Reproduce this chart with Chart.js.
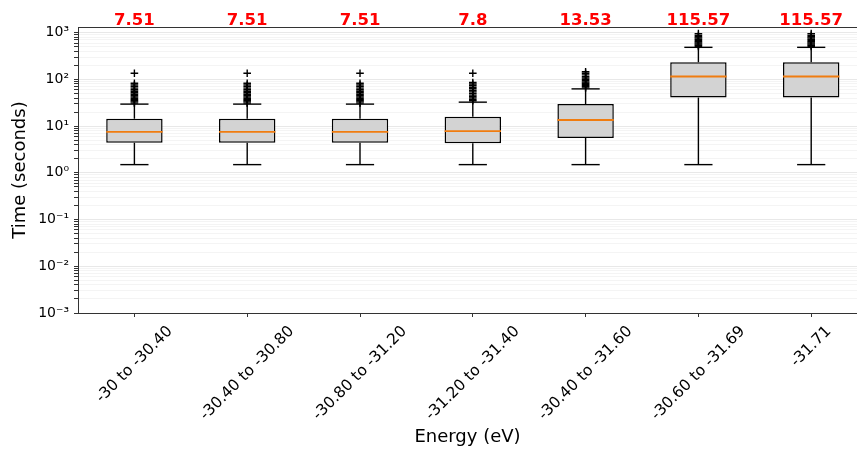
<!DOCTYPE html>
<html>
<head>
<meta charset="utf-8">
<script src="https://cdn.jsdelivr.net/npm/chart.js@4/dist/chart.umd.min.js"></script>
<style>
  html, body { margin: 0; padding: 0; background: #fff; overflow: hidden; }
  #wrap { width: 857px; height: 454px; }
</style>
</head>
<body>
<div id="wrap"><canvas id="c" width="857" height="454"></canvas></div>
<script>
// ---- data ----
const categories = ['-30 to -30.40', '-30.40 to -30.80', '-30.80 to -31.20', '-31.20 to -31.40', '-30.40 to -31.60', '-30.60 to -31.69', '-31.71'];
const medianLabels = ['7.51', '7.51', '7.51', '7.8', '13.53', '115.57', '115.57'];
const whisLow  = [1.5, 1.5, 1.5, 1.5, 1.5, 1.5, 1.5];
const q1       = [4.4, 4.4, 4.4, 4.3, 5.6, 41, 41];
const medians  = [7.51, 7.51, 7.51, 7.8, 13.53, 115.57, 115.57];
const q3       = [14.4, 14.4, 14.4, 15.9, 29.6, 233, 233];
const whisHigh = [29.6, 29.6, 29.6, 32.6, 62.7, 486, 486];
const outliers1 = [31, 33, 35, 37, 39, 42, 45, 48, 52, 56, 60, 65, 70, 76, 83, 135];
const outliers2 = [31, 33, 35, 37, 39, 42, 45, 48, 52, 56, 60, 65, 70, 76, 83, 135];
const outliers3 = [31, 33, 35, 37, 39, 42, 45, 48, 52, 56, 60, 65, 70, 76, 83, 135];
const outliers4 = [35, 37, 40, 43, 46, 50, 54, 58, 63, 68, 74, 80, 86, 135];
const outliers5 = [66, 70, 74, 78, 83, 88, 94, 100, 107, 115, 125, 135, 146];
const outliers6 = [510, 540, 570, 600, 640, 680, 720, 770, 820, 880, 955];
const outliers7 = [510, 540, 570, 600, 640, 680, 720, 770, 820, 880, 955];
const yMajorTicks = [0.001, 0.01, 0.1, 1, 10, 100, 1000];
const yTickLabels = ['10\u207B\u00B3', '10\u207B\u00B2', '10\u207B\u00B9', '10\u2070', '10\u00B9', '10\u00B2', '10\u00B3'];

// ---- derived datasets ----
const allOutliers = [outliers1, outliers2, outliers3, outliers4, outliers5, outliers6, outliers7];
const boxPts = categories.map((c, i) => ({ x: i, y: [q1[i], q3[i]] }));
const whiskerPts = [];
categories.forEach((c, i) => {
  whiskerPts.push({ x: i, y: whisLow[i] }, { x: i, y: q1[i] }, { x: i, y: null },
                  { x: i, y: q3[i] }, { x: i, y: whisHigh[i] }, { x: i, y: null });
});
const capPts = [];
categories.forEach((c, i) => { capPts.push({ x: i, y: whisLow[i] }, { x: i, y: whisHigh[i] }); });
const medianPts = categories.map((c, i) => ({ x: i, y: medians[i] }));
const outlierPts = [];
allOutliers.forEach((arr, i) => arr.forEach(v => outlierPts.push({ x: i, y: v })));

const FONT = '"DejaVu Sans", "Liberation Sans", sans-serif';
Chart.defaults.font.family = FONT;
Chart.defaults.color = '#000';

const halfWidthPx = frac => ctx => {
  const s = ctx.chart.scales.x;
  return Math.abs(s.getPixelForValue(frac) - s.getPixelForValue(0));
};

const xLabelPlugin = {
  id: 'xlabels',
  afterDraw(chart) {
    const { ctx } = chart;
    const x = chart.scales.x;
    const size = 15.5;
    ctx.save();
    ctx.font = size + 'px ' + FONT;
    ctx.fillStyle = '#000';
    ctx.textAlign = 'center';
    ctx.textBaseline = 'middle';
    categories.forEach((lab, i) => {
      const w = ctx.measureText(lab).width;
      const h = size * 1.1;
      const half = Math.SQRT1_2 * (w + h) / 2;
      const cx = x.getPixelForValue(i);
      const cy = x.top + 10 + half;
      ctx.save();
      ctx.translate(cx, cy);
      ctx.rotate(-Math.PI / 4);
      ctx.fillText(lab, 0, 0);
      ctx.restore();
    });
    ctx.restore();
  }
};

const xMin = -0.5, xMax = 6.406;
const spine = '#333';
const noSidePad = s => { s.paddingLeft = 0; s.paddingRight = 0; };

new Chart(document.getElementById('c'), {
  type: 'bar',
  data: {
    datasets: [
      { type: 'line', label: 'whiskers', data: whiskerPts, xAxisID: 'x', yAxisID: 'y',
        borderColor: '#000', borderWidth: 1.4, pointRadius: 0, spanGaps: false, order: 5 },
      { type: 'bar', label: 'box', data: boxPts, xAxisID: 'x', yAxisID: 'y',
        backgroundColor: '#d3d3d3', borderColor: '#000', borderWidth: 1.5, borderSkipped: false,
        grouped: false, categoryPercentage: 1, barPercentage: 0.5, order: 4 },
      { type: 'scatter', label: 'caps', data: capPts, xAxisID: 'x', yAxisID: 'y',
        pointStyle: 'line', pointRadius: halfWidthPx(0.125), borderColor: '#000', pointBorderWidth: 1.4, order: 3 },
      { type: 'scatter', label: 'outliers', data: outlierPts, xAxisID: 'x', yAxisID: 'y',
        pointStyle: 'cross', pointRadius: 3.8, borderColor: '#000', pointBorderWidth: 1.4, order: 2 },
      { type: 'scatter', label: 'median', data: medianPts, xAxisID: 'x', yAxisID: 'y',
        pointStyle: 'line', pointRadius: halfWidthPx(0.25), borderColor: '#f07c10', pointBorderWidth: 1.8, order: 1 }
    ]
  },
  options: {
    responsive: false,
    animation: false,
    events: [],
    layout: { padding: 0, autoPadding: false },
    plugins: { legend: { display: false }, tooltip: { enabled: false }, title: { display: false } },
    scales: {
      x: {
        type: 'linear', position: 'bottom', min: xMin, max: xMax, offset: false, bounds: 'data',
        afterBuildTicks: s => { s.ticks = categories.map((c, i) => ({ value: i })); },
        afterFit: s => { s.height = 141; noSidePad(s); },
        ticks: { display: false },
        grid: { display: true, drawOnChartArea: false, drawTicks: true, tickLength: 4, tickColor: spine, offset: false },
        border: { display: true, color: spine, width: 1 },
        title: { display: true, text: 'Energy (eV)', font: { size: 18, family: FONT }, color: '#000',
                 padding: { top: 0, bottom: 6 } }
      },
      x2: {
        type: 'linear', position: 'top', min: xMin, max: xMax, offset: false, bounds: 'data',
        afterBuildTicks: s => { s.ticks = medianLabels.map((c, i) => ({ value: i })); },
        afterFit: s => { s.height = 27; noSidePad(s); },
        ticks: { autoSkip: false, maxRotation: 0, padding: -1, color: '#ff0000',
                 font: { size: 16.5, weight: 'bold', family: FONT, lineHeight: 0.9 },
                 callback: (v, i) => medianLabels[i] },
        grid: { display: false, drawTicks: false },
        border: { display: true, color: spine, width: 1 }
      },
      y: {
        type: 'logarithmic', position: 'left', min: 0.001, max: 1324,
        afterBuildTicks: s => {
          const t = [];
          yMajorTicks.forEach((m, j) => {
            t.push({ value: m });
            if (j < yMajorTicks.length - 1) for (let k = 2; k <= 9; k++) t.push({ value: m * k });
          });
          s.ticks = t;
        },
        afterFit: s => { s.width = 78; s.paddingTop = 0; s.paddingBottom = 0; },
        ticks: { autoSkip: false, padding: 5, font: { size: 14, family: FONT }, color: '#000',
                 callback: (v) => { const j = yMajorTicks.findIndex(m => Math.abs(m - v) / m < 1e-6); return j >= 0 ? yTickLabels[j] : ''; } },
        grid: {
          display: true, drawTicks: true, tickLength: 4,
          color: c => (c.tick && yMajorTicks.some(m => Math.abs(m - c.tick.value) / m < 1e-6)) ? 'rgba(0,0,0,0.09)' : 'rgba(0,0,0,0.045)',
          tickColor: spine
        },
        border: { display: true, color: spine, width: 1 },
        title: { display: true, text: 'Time (seconds)', font: { size: 18, family: FONT }, color: '#000',
                 padding: { top: 10, bottom: 0 } }
      }
    }
  },
  plugins: [xLabelPlugin]
});
</script>
</body>
</html>
